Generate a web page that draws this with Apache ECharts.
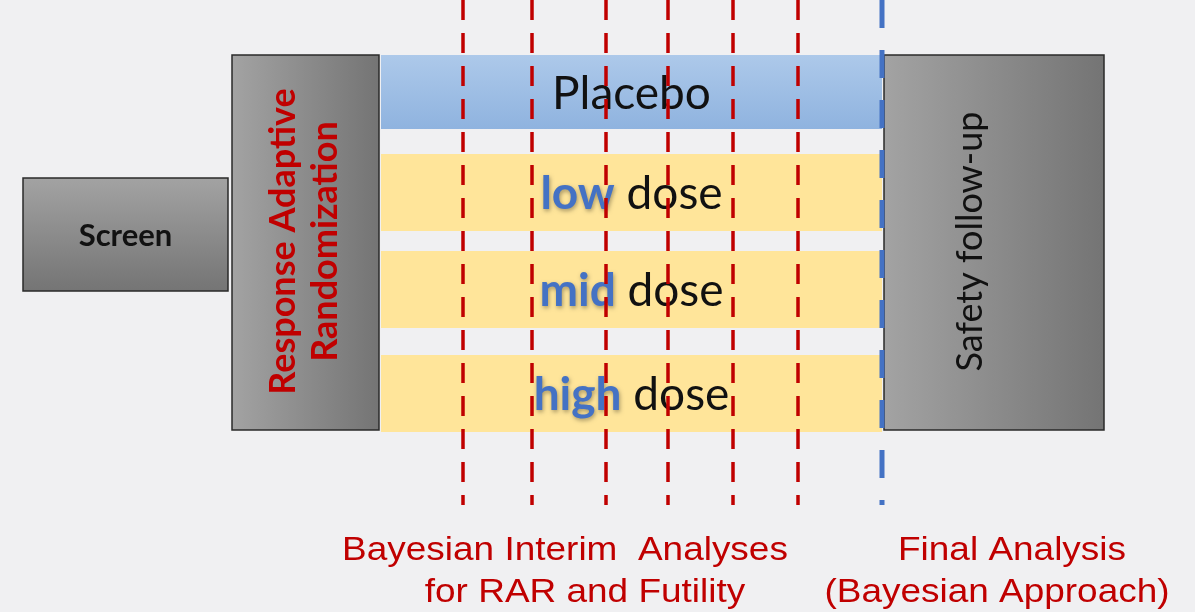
<!DOCTYPE html>
<html><head><meta charset="utf-8">
<script src="https://cdn.jsdelivr.net/npm/echarts@6/dist/echarts.min.js"></script>
<style>html,body{margin:0;padding:0;background:#f0f0f2}#c{width:1195px;height:612px}</style>
</head><body><div id="c"></div>
<script>
// ---- data ----
const phaseNames = ['Screen', 'Response Adaptive\nRandomization', 'Safety follow-up'];
const phaseStart = [23, 232, 884];
const phaseEnd = [228, 379, 1104];
const phaseTop = [178, 55, 55];
const phaseBottom = [291, 430, 430];
const armNames = ['Placebo', 'low', 'mid', 'high'];
const armTop = [55, 154, 251, 355];
const armBottom = [129, 231, 328, 432];
const armStart = 381, armEnd = 882;
const interimX = [463, 532, 606, 668, 733, 798];
const finalX = 882;
const lineTop = 0, lineBottom = 505;
const noteLines = [['Bayesian Interim  Analyses', 'for RAR and Futility'], ['Final Analysis', '(Bayesian Approach)']];
const noteLineX = [[565, 585], [1012, 997]];
const noteLineY = [551, 593];

const RED = '#c00000', BLUE = '#4472c4';
const chart = echarts.init(document.getElementById('c'));

function gray(horizontal) {
  return new echarts.graphic.LinearGradient(0, 0, horizontal ? 1 : 0, horizontal ? 0 : 1, [
    { offset: 0, color: '#a3a3a3' }, { offset: 1, color: '#747474' }]);
}

const phaseSeries = {
  type: 'custom', coordinateSystem: 'cartesian2d', z: 1,
  data: phaseNames.map((n, i) => [phaseStart[i], phaseTop[i], phaseEnd[i], phaseBottom[i], i]),
  renderItem(params, api) {
    const i = api.value(4);
    const p0 = api.coord([api.value(0), api.value(1)]);
    const p1 = api.coord([api.value(2), api.value(3)]);
    const cx = (p0[0] + p1[0]) / 2, cy = (p0[1] + p1[1]) / 2;
    const children = [{
      type: 'rect', shape: { x: p0[0], y: p0[1], width: p1[0] - p0[0], height: p1[1] - p0[1] },
      style: { fill: gray(i !== 0), stroke: '#2a2a2a', lineWidth: 1.5 }
    }];
    if (i === 0) {
      children.push({ type: 'text', x: cx, y: cy + 1, style: { text: phaseNames[i], x: 0, y: 0, align: 'center', verticalAlign: 'middle', font: 'bold 31px Lato, "Open Sans", sans-serif', fill: '#111' } });
    } else if (i === 1) {
      children.push({ type: 'text', x: cx - 1, y: cy - 1, rotation: Math.PI / 2, style: { text: phaseNames[i], x: 0, y: 0, align: 'center', verticalAlign: 'middle', font: 'bold 36px Lato, "Open Sans", sans-serif', lineHeight: 42, fill: RED } });
    } else {
      children.push({ type: 'text', x: cx - 24, y: cy - 1, rotation: Math.PI / 2, style: { text: phaseNames[i], x: 0, y: 0, align: 'center', verticalAlign: 'middle', font: '36px Lato, "Open Sans", sans-serif', fill: '#111' } });
    }
    return { type: 'group', children };
  }
};

const armSeries = {
  type: 'custom', coordinateSystem: 'cartesian2d', z: 2,
  data: armNames.map((n, i) => [armStart, armTop[i], armEnd, armBottom[i], i]),
  renderItem(params, api) {
    const i = api.value(4);
    const p0 = api.coord([api.value(0), api.value(1)]);
    const p1 = api.coord([api.value(2), api.value(3)]);
    const cx = (p0[0] + p1[0]) / 2, cy = (p0[1] + p1[1]) / 2;
    const fill = i === 0
      ? new echarts.graphic.LinearGradient(0, 0, 0, 1, [{ offset: 0, color: '#adc9ea' }, { offset: 1, color: '#8fb3df' }])
      : '#ffe59a';
    const text = i === 0 ? '{n|Placebo}' : '{b|' + armNames[i] + '}{n| dose}';
    return { type: 'group', children: [
      { type: 'rect', shape: { x: p0[0], y: p0[1], width: p1[0] - p0[0], height: p1[1] - p0[1] }, style: { fill } },
      { type: 'text', x: cx, y: cy + 2, style: { text, x: 0, y: 0, align: 'center', verticalAlign: 'middle',
        rich: {
          n: { font: '46px Lato, "Open Sans", sans-serif', fill: '#111', color: '#111' },
          b: { font: 'bold 46px Lato, "Open Sans", sans-serif', fill: BLUE, color: BLUE, textShadowColor: 'rgba(0,0,0,0.35)', textShadowBlur: 4, textShadowOffsetX: 1, textShadowOffsetY: 2 }
        } } }
    ] };
  }
};

const lineSeries = {
  type: 'custom', coordinateSystem: 'cartesian2d', z: 5,
  data: interimX.map(x => [x, 0]).concat([[finalX, 1]]),
  renderItem(params, api) {
    const isFinal = api.value(1) === 1;
    const p0 = api.coord([api.value(0), lineTop]);
    const p1 = api.coord([api.value(0), lineBottom]);
    return { type: 'line', shape: { x1: p0[0], y1: p0[1], x2: p1[0], y2: p1[1] },
      style: { stroke: isFinal ? BLUE : RED, lineWidth: isFinal ? 5 : 3.5, lineDash: isFinal ? [28, 22] : [20, 13] } };
  }
};

const noteData = [];
noteLines.forEach((lines, g) => lines.forEach((t, k) => noteData.push([noteLineX[g][k], noteLineY[k], g, k])));
const noteSeries = {
  type: 'custom', coordinateSystem: 'cartesian2d', z: 6,
  data: noteData,
  renderItem(params, api) {
    const g = api.value(2), k = api.value(3);
    const p = api.coord([api.value(0), api.value(1)]);
    return { type: 'text', x: p[0], y: p[1], scaleX: 1.12, style: { text: noteLines[g][k], x: 0, y: 0, align: 'center', verticalAlign: 'middle', font: '33px "Liberation Sans", Arial, sans-serif', fill: RED } };
  }
};

chart.setOption({
  backgroundColor: '#f0f0f2',
  animation: false,
  grid: { left: 0, right: 0, top: 0, bottom: 0 },
  xAxis: { type: 'value', min: 0, max: 1195, show: false },
  yAxis: { type: 'value', min: 0, max: 612, inverse: true, show: false },
  series: [phaseSeries, armSeries, lineSeries, noteSeries]
});
</script></body></html>
